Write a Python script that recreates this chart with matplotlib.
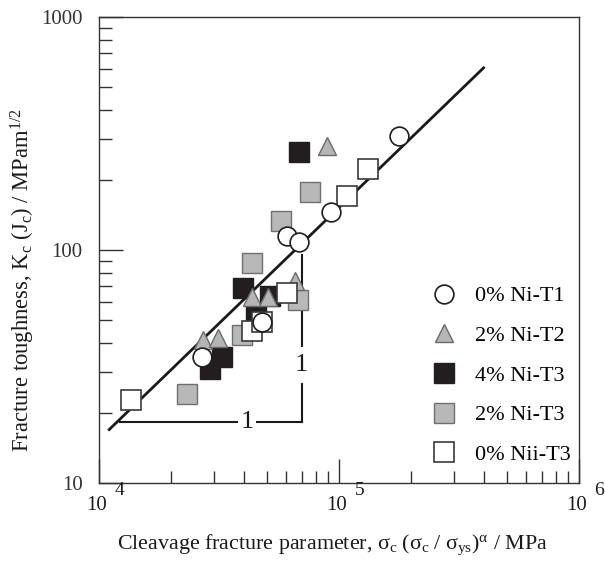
import matplotlib
matplotlib.use("Agg")
import matplotlib.pyplot as plt
from matplotlib.lines import Line2D
from matplotlib.ticker import LogLocator, NullFormatter, FixedLocator

plt.rcParams['font.family'] = ['Liberation Serif', 'DejaVu Serif']
plt.rcParams['mathtext.fontset'] = 'custom'
plt.rcParams['mathtext.rm'] = 'Liberation Serif'
plt.rcParams['mathtext.it'] = 'Liberation Serif:italic'
plt.rcParams['mathtext.default'] = 'regular'

# ---------------- data ----------------
ni0_t1_x = [26730, 47560, 60810, 68060, 92070, 178200]
ni0_t1_y = [34.7, 49.4, 115.1, 108.7, 145.1, 309.7]

ni2_t2_x = [27150, 31170, 43330, 50520, 65170, 88800]
ni2_t2_y = [41.2, 41.8, 63.0, 63.0, 73.8, 279.8]

ni4_t3_x = [28940, 32490, 39860, 45030, 51500, 68060]
ni4_t3_y = [30.9, 34.8, 68.9, 53.8, 63.6, 263.7]

ni2_t3_x = [23280, 39170, 43330, 57240, 67070, 75620]
ni2_t3_y = [24.1, 43.1, 88.1, 133.4, 60.9, 177.1]

ni0_t3_x = [13560, 43120, 47700, 60460, 108200, 132400]
ni0_t3_y = [22.8, 45.0, 49.2, 65.3, 170.8, 222.9]

fit_x = [1.1e4, 4.0e5]
fit_y = [17.0, 605.0]

# slope triangle (schematic)
tri_h_x = [1.22e4, 6.98e4]
tri_h_y = [18.3, 18.3]
tri_v_x = [6.98e4, 6.98e4]
tri_v_y = [18.3, 95.0]
tri_label_h = (41300, 18.3)
tri_label_v = (6.98e4, 32.2)

labels = ['0% Ni-T1', '2% Ni-T2', '4% Ni-T3', '2% Ni-T3', '0% Nii-T3']
x_tick_vals = [1e4, 1e5, 1e6]
x_tick_exps = ['4', '5', '6']
y_tick_vals = [10, 100, 1000]
y_tick_labels = ['10', '100', '1000']

# ---------------- figure ----------------
fig = plt.figure(figsize=(6.05, 5.63), dpi=100)
ax = fig.add_axes([0.1641, 0.1416, 0.7929, 0.8282])
ax.set_xscale('log')
ax.set_yscale('log')
ax.set_xlim(1e4, 1e6)
ax.set_ylim(10, 1000)

spine_c = '#333333'
for s in ax.spines.values():
    s.set_color(spine_c)
    s.set_linewidth(1.0)

# line and triangle
ax.plot(fit_x, fit_y, color='#1a1a1a', lw=2.0, zorder=2)
ax.plot(tri_h_x, tri_h_y, color='#1a1a1a', lw=1.5, zorder=1)
ax.plot(tri_v_x, tri_v_y, color='#1a1a1a', lw=1.5, zorder=1)
ax.text(*tri_label_h, '1', ha='center', va='center', fontsize=19, color='#1a1a1a',
        bbox=dict(facecolor='white', edgecolor='none', pad=1.5), zorder=1.5)
ax.text(*tri_label_v, '1', ha='center', va='center', fontsize=19, color='#1a1a1a',
        bbox=dict(facecolor='white', edgecolor='none', pad=5), zorder=1.5)

ms_sq = 14.5
ms_c = 13.5
ms_t = 12.5
styles = [
    dict(marker='o', ms=ms_c, mfc='white', mec='#1e1e1e', mew=1.2),
    dict(marker='^', ms=ms_t, mfc='#b5b5b5', mec='#6a6a6a', mew=1.0),
    dict(marker='s', ms=ms_sq, mfc='#221e1f', mec='#221e1f', mew=1.0),
    dict(marker='s', ms=ms_sq, mfc='#b8b8b8', mec='#707070', mew=1.0),
    dict(marker='s', ms=ms_sq, mfc='white', mec='#3a3a3a', mew=1.2),
]
series = [(ni0_t1_x, ni0_t1_y), (ni2_t2_x, ni2_t2_y), (ni4_t3_x, ni4_t3_y),
          (ni2_t3_x, ni2_t3_y), (ni0_t3_x, ni0_t3_y)]
zorders = [7, 5, 4, 3, 6]
for (xs, ys), st, z in zip(series, styles, zorders):
    ax.plot(xs, ys, ls='none', zorder=z, **st)

handles = [Line2D([], [], ls='none', **st) for st in styles]
leg = ax.legend(handles, labels, loc='upper left', bbox_to_anchor=(0.6956, 0.4235),
                frameon=False, borderpad=0, borderaxespad=0, handlelength=1.0,
                handletextpad=0.9, labelspacing=0.86, fontsize=16)

# ticks
ax.tick_params(which='both', direction='in', top=False, right=False, colors=spine_c)
ax.tick_params(which='major', length=17, width=1.0, labelsize=15)
ax.tick_params(which='minor', length=9, width=1.0)
ax.tick_params(axis='y', which='major', pad=12)
ax.yaxis.set_major_locator(FixedLocator(y_tick_vals))
ax.set_yticklabels(y_tick_labels)
ax.yaxis.set_minor_locator(LogLocator(base=10, subs=range(2, 10)))
ax.yaxis.set_minor_formatter(NullFormatter())
ax.xaxis.set_major_locator(FixedLocator(x_tick_vals))
ax.xaxis.set_major_formatter(NullFormatter())
ax.xaxis.set_minor_locator(LogLocator(base=10, subs=range(2, 10)))
ax.xaxis.set_minor_formatter(NullFormatter())
for v, e in zip(x_tick_vals, x_tick_exps):
    ax.annotate('10', xy=(v, 0), xycoords=('data', 'axes fraction'),
                xytext=(-2, -16), textcoords='offset points',
                ha='center', va='center', fontsize=15, color='#1a1a1a',
                annotation_clip=False)
    ax.annotate(e, xy=(v, 0), xycoords=('data', 'axes fraction'),
                xytext=(14.5, -5), textcoords='offset points',
                ha='center', va='center', fontsize=14, color='#1a1a1a',
                annotation_clip=False)

ax.set_xlabel(r'Cleavage fracture parameter, $\mathrm{σ_c\ (σ_c\ /\ σ_{ys})^{α}}$ / MPa',
              fontsize=15.8, color='#1a1a1a')
ax.xaxis.set_label_coords(0.487, -0.105)
ax.set_ylabel(r'Fracture toughness, K$_\mathrm{c}$ (J$_\mathrm{c}$) / MPam$^\mathrm{1/2}$',
              fontsize=16.3, color='#1a1a1a')
ax.yaxis.set_label_coords(-0.130, 0.436)

fig.savefig('out.png', dpi=100)
